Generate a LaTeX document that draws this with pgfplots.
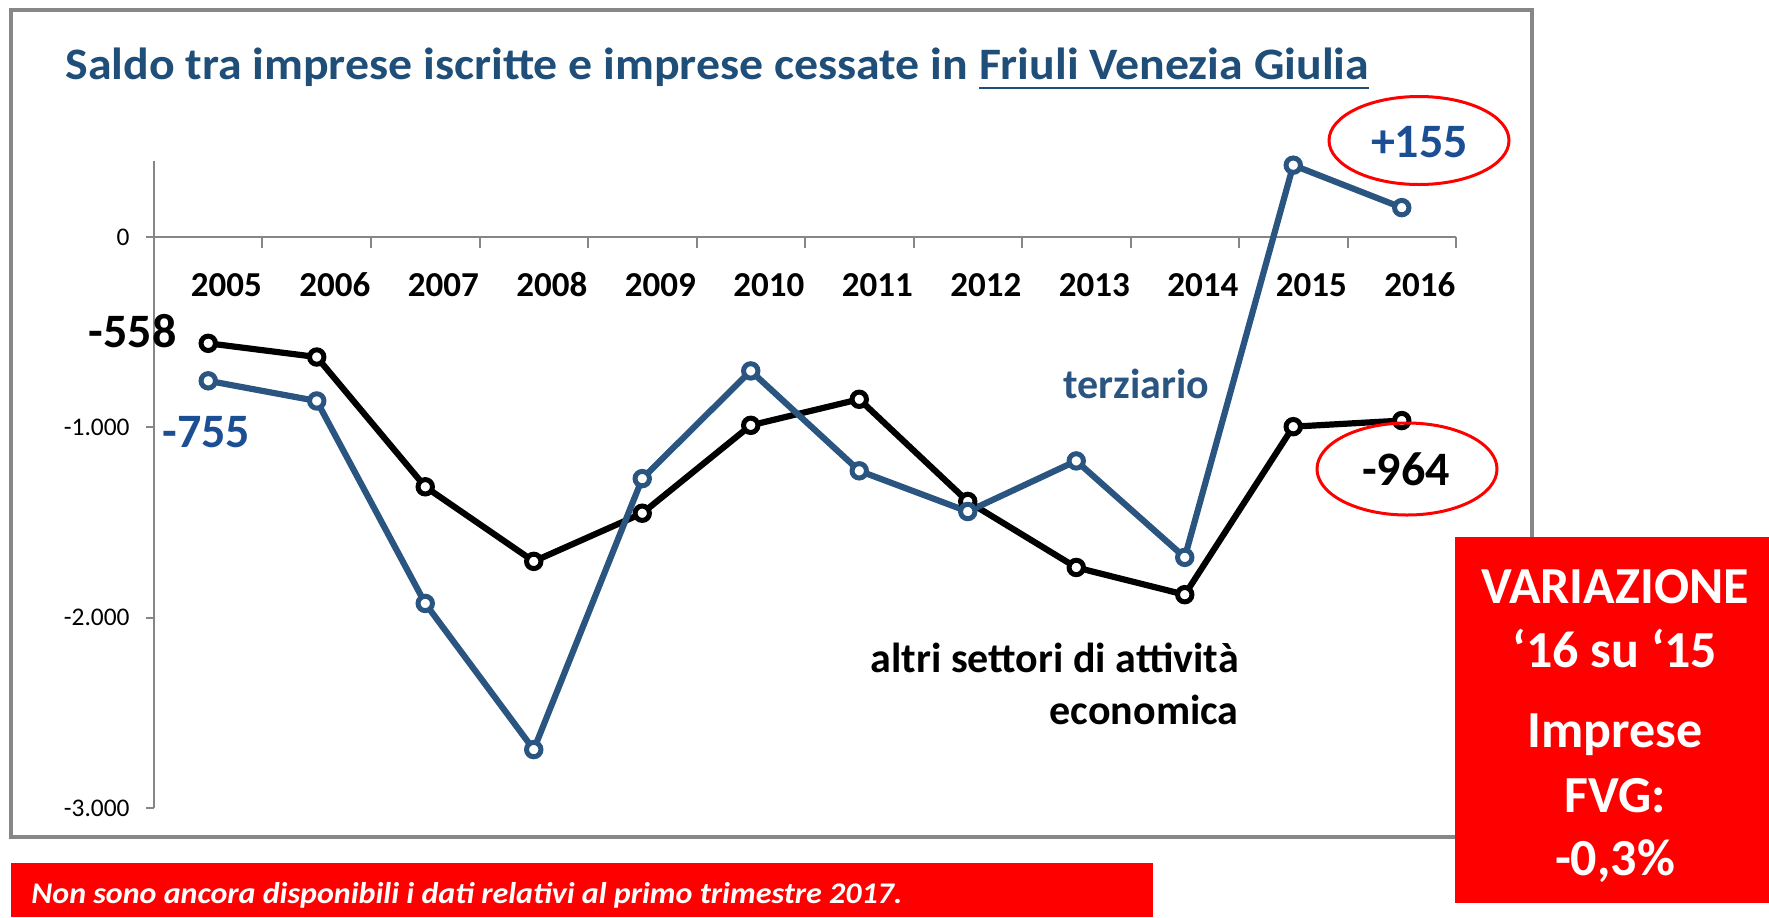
\documentclass[border=0pt]{standalone}
\usepackage{pgfplots}
\pgfplotsset{compat=1.18}
\usepackage{fontspec}
\setmainfont{Carlito}
\definecolor{titleblue}{HTML}{1F4E79}
\definecolor{labelblue}{HTML}{1C4E94}
\definecolor{lineblue}{HTML}{2A5581}
\definecolor{framegray}{HTML}{878787}
\definecolor{axisgray}{HTML}{868686}
\definecolor{boxred}{HTML}{FF0000}
\newsavebox\fvgbox
\begin{document}
\begin{tikzpicture}[x=0.5pt,y=-0.5pt]
\path[use as bounding box] (0,0) rectangle (1769,917);
\draw[framegray, line width=2pt] (11,10) rectangle (1532,837);
\begin{axis}[
  at={(77pt,-404pt)}, anchor=south west,
  scale only axis, width=651pt, height=323.5pt,
  xmin=0.5, xmax=12.5, ymin=-3000, ymax=400,
  axis x line=middle, axis y line=left,
  axis line style={-, draw=axisgray, line width=1pt},
  every inner x axis line/.append style={-},
  every outer y axis line/.append style={-},
  hide obscured x ticks=false, hide obscured y ticks=false,
  xtick={1,...,12},
  xticklabels={2005,2006,2007,2008,2009,2010,2011,2012,2013,2014,2015,2016},
  minor xtick={0.5,1.5,...,12.5},
  major x tick style={draw=none},
  minor x tick style={draw=axisgray, line width=1pt},
  y tick style={draw=axisgray, line width=1pt},
  xtick align=outside, ytick align=outside,
  major tick length=4pt, minor tick length=5.5pt,
  xticklabel style={font=\bfseries\fontsize{17.5}{20}\selectfont, anchor=base, yshift=-25.5pt, xshift=9pt},
  ytick={-3000,-2000,-1000,0},
  yticklabels={-3.000,-2.000,-1.000,0},
  yticklabel style={font=\fontsize{12.7}{15}\selectfont, anchor=east, inner sep=0pt, xshift=-8pt},
  clip=false,
]
\addplot[black, line width=3.1pt, mark=*, mark options={fill=white, draw=black, line width=2.5pt}, mark size=3.6pt]
coordinates {(1,-558) (2,-630) (3,-1312) (4,-1704) (5,-1451) (6,-989) (7,-852) (8,-1389) (9,-1736) (10,-1879) (11,-996) (12,-964)};
\addplot[lineblue, line width=3.1pt, mark=*, mark options={fill=white, draw=lineblue, line width=2.5pt}, mark size=3.6pt]
coordinates {(1,-755) (2,-861) (3,-1925) (4,-2693) (5,-1269) (6,-703) (7,-1228) (8,-1442) (9,-1176) (10,-1683) (11,378) (12,155)};
\end{axis}
% title
\node[anchor=base west, inner sep=0pt, text=titleblue, font=\bfseries\fontsize{22.5}{26}\selectfont] at (65,79)
  {\scalebox{1.063}[1]{Saldo tra imprese iscritte e imprese cessate in \sbox\fvgbox{Friuli Venezia Giulia}\usebox\fvgbox\llap{\rule[-5pt]{\wd\fvgbox}{1.2pt}}}};
% annotations
\node[anchor=base east, inner sep=0pt, font=\bfseries\fontsize{24}{28}\selectfont] at (177,347) {-558};
\node[anchor=base west, inner sep=0pt, text=labelblue, font=\bfseries\fontsize{24}{28}\selectfont] at (162,447) {-755};
\node[anchor=base, inner sep=0pt, text=labelblue, font=\bfseries\fontsize{24}{28}\selectfont] at (1419.5,157) {+155};
\node[anchor=base, inner sep=0pt, font=\bfseries\fontsize{24}{28}\selectfont] at (1406,485) {-964};
\draw[boxred, line width=1.5pt] (1419,140.5) ellipse [x radius=45pt, y radius=22pt];
\draw[boxred, line width=1.5pt] (1407,469) ellipse [x radius=45pt, y radius=23pt];
\node[anchor=base west, inner sep=0pt, text=lineblue, font=\bfseries\fontsize{21}{25}\selectfont] at (1063,398) {terziario};
\node[anchor=base east, inner sep=0pt, font=\bfseries\fontsize{21}{25}\selectfont] at (1239,672) {altri settori di attività};
\node[anchor=base east, inner sep=0pt, font=\bfseries\fontsize{21}{25}\selectfont] at (1239,724) {economica};
% red box right
\fill[boxred] (1455,537) rectangle (1769,903);
\begin{scope}[every node/.style={anchor=base, inner sep=0pt, text=white, font=\bfseries\fontsize{26}{30}\selectfont}]
\node at (1615,603) {VARIAZIONE};
\node at (1615,667) {‘16 su ‘15};
\node at (1615,747) {Imprese};
\node at (1615,812) {FVG:};
\node at (1615,875) {-0,3\%};
\end{scope}
% bottom bar
\fill[boxred] (11,863) rectangle (1153,917);
\node[anchor=base west, inner sep=0pt, text=white, font=\bfseries\itshape\fontsize{15}{18}\selectfont] at (31,903) {\scalebox{1.067}[1]{Non sono ancora disponibili i dati relativi al primo trimestre 2017.}};
\end{tikzpicture}
\end{document}
